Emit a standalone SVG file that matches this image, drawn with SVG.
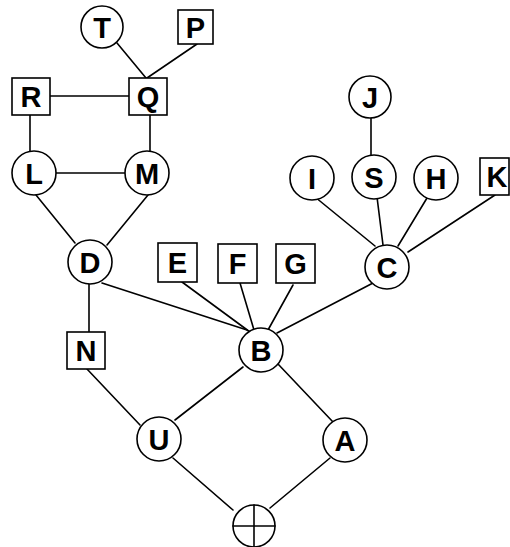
<svg xmlns="http://www.w3.org/2000/svg" width="510" height="547" viewBox="0 0 510 547">
<style>
.e{stroke:#000;stroke-width:1.6;fill:none;stroke-linecap:round}
.c,.b{fill:#fff;stroke:#000;stroke-width:1.6}
.t{font-family:"Liberation Sans",Arial,sans-serif;font-weight:bold;font-size:29px;text-anchor:middle;fill:#000}
</style>
<rect width="510" height="547" fill="#fff"/>
<g id="edges">
<line class="e" x1="117" y1="43" x2="146" y2="78"/>
<line class="e" x1="197" y1="44" x2="147" y2="78"/>
<line class="e" x1="50" y1="96" x2="129" y2="96"/>
<line class="e" x1="30" y1="115" x2="30" y2="152"/>
<line class="e" x1="150" y1="115" x2="150" y2="152"/>
<line class="e" x1="56" y1="173" x2="125" y2="173"/>
<line class="e" x1="36" y1="195" x2="75" y2="243"/>
<line class="e" x1="148" y1="195" x2="107" y2="245"/>
<line class="e" x1="89" y1="284" x2="89" y2="332"/>
<line class="e" x1="102" y1="283" x2="247" y2="330"/>
<line class="e" x1="182" y1="282" x2="250" y2="332"/>
<line class="e" x1="240" y1="283" x2="254" y2="330"/>
<line class="e" x1="293" y1="285" x2="268" y2="330"/>
<line class="e" x1="277" y1="333" x2="373" y2="283"/>
<line class="e" x1="243" y1="367" x2="175" y2="420"/>
<line class="e" x1="278" y1="364" x2="333" y2="422"/>
<line class="e" x1="87" y1="369" x2="140" y2="425"/>
<line class="e" x1="173" y1="458" x2="233" y2="510"/>
<line class="e" x1="330" y1="458" x2="270" y2="508"/>
<line class="e" x1="315" y1="197" x2="375" y2="246"/>
<line class="e" x1="377" y1="197" x2="383" y2="245"/>
<line class="e" x1="427" y1="198" x2="398" y2="246"/>
<line class="e" x1="495" y1="195" x2="408" y2="252"/>
<line class="e" x1="371" y1="117" x2="371" y2="156"/>
</g>
<g id="T"><circle class="c" cx="102" cy="27" r="21"/><text class="t" x="102" y="37.5">T</text></g>
<g id="P"><rect class="b" x="178" y="10" width="35" height="34"/><text class="t" x="195.5" y="37.5">P</text></g>
<g id="Q"><rect class="b" x="129" y="78" width="38" height="37"/><text class="t" x="148" y="107">Q</text></g>
<g id="R"><rect class="b" x="12" y="78" width="38" height="37"/><text class="t" x="31" y="107">R</text></g>
<g id="L"><circle class="c" cx="34" cy="173" r="22"/><text class="t" x="34" y="183.5">L</text></g>
<g id="M"><circle class="c" cx="147" cy="173" r="22"/><text class="t" x="147" y="183.5">M</text></g>
<g id="D"><circle class="c" cx="90" cy="262" r="22"/><text class="t" x="90" y="272.5">D</text></g>
<g id="E"><rect class="b" x="158" y="243" width="39" height="39"/><text class="t" x="177.5" y="273">E</text></g>
<g id="F"><rect class="b" x="218" y="244" width="39" height="39"/><text class="t" x="237.5" y="274">F</text></g>
<g id="G"><rect class="b" x="276" y="244" width="39" height="39"/><text class="t" x="295.5" y="274">G</text></g>
<g id="N"><rect class="b" x="67" y="332" width="38" height="37"/><text class="t" x="86" y="361">N</text></g>
<g id="B"><circle class="c" cx="261" cy="350" r="22"/><text class="t" x="261" y="360.5">B</text></g>
<g id="U"><circle class="c" cx="159" cy="439" r="22"/><text class="t" x="159" y="449.5">U</text></g>
<g id="A"><circle class="c" cx="345" cy="440" r="22"/><text class="t" x="345" y="450.5">A</text></g>
<g id="X"><circle class="c" cx="254" cy="526" r="21"/><line class="e" x1="254" y1="505" x2="254" y2="547"/><line class="e" x1="233" y1="526" x2="275" y2="526"/></g>
<g id="C"><circle class="c" cx="387" cy="267" r="22"/><text class="t" x="387" y="277.5">C</text></g>
<g id="I"><circle class="c" cx="312" cy="178" r="22"/><text class="t" x="312" y="188.5">I</text></g>
<g id="S"><circle class="c" cx="374" cy="177" r="22"/><text class="t" x="374" y="187.5">S</text></g>
<g id="H"><circle class="c" cx="436" cy="178" r="22"/><text class="t" x="436" y="188.5">H</text></g>
<g id="J"><circle class="c" cx="370" cy="97" r="21"/><text class="t" x="370" y="107.5">J</text></g>
<g id="K"><rect class="b" x="480" y="158" width="29" height="37"/><text class="t" x="497" y="187">K</text></g>
</svg>
